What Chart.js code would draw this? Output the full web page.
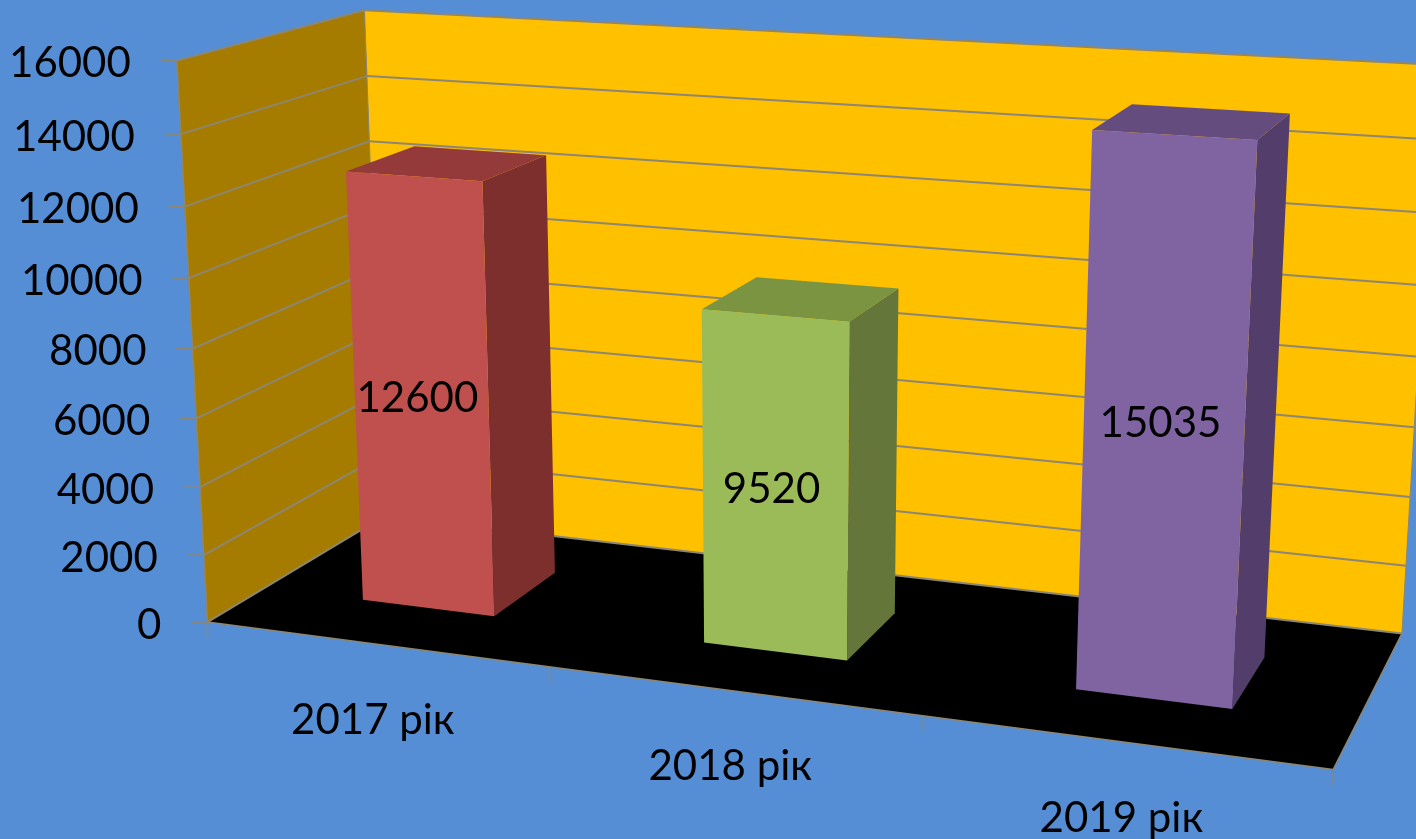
<!DOCTYPE html>
<html><head><meta charset="utf-8">
<style>html,body{margin:0;padding:0;background:#558ED5;overflow:hidden}canvas{display:block}</style>
<script src="https://cdn.jsdelivr.net/npm/chart.js@4"></script></head>
<body><canvas id="c" width="1416" height="839"></canvas>
<script>
const categories = ['2017 рік', '2018 рік', '2019 рік'];
const values = [12600, 9520, 15035];
const frontColors = ['#C0504D', '#9BBB59', '#8064A2'];
const topColors = ['#953A3A', '#7A9441', '#654C7F'];
const sideColors = ['#7D2F2E', '#64763A', '#533E6B'];
const yMax = 16000, yStep = 2000;

// Layout of the 3D view: box anchors as [across, up, deep, screenX, screenY]
const anchors = [
  [0,0,0,208,622],[1,0,0,1333,770],[0,0,1,383,517],[1,0,1,1402,633],
  [0,1,0,177,61],[0,1,1,365,10.5],[1,1,1,1436,65],
  [0,.875,0,180,134],[0,.75,0,185,206],[0,.875,1,367,76],[0,.75,1,369,141]
];
const barDepth = [0.305, 0.695];

function solve(A,b){const n=b.length;for(let i=0;i<n;i++){let p=i;for(let r=i+1;r<n;r++)if(Math.abs(A[r][i])>Math.abs(A[p][i]))p=r;
  [A[i],A[p]]=[A[p],A[i]];[b[i],b[p]]=[b[p],b[i]];
  for(let r=i+1;r<n;r++){const f=A[r][i]/A[i][i];for(let k=i;k<n;k++)A[r][k]-=f*A[i][k];b[r]-=f*b[i];}}
  const x=Array(n).fill(0);for(let i=n-1;i>=0;i--){let s=b[i];for(let k=i+1;k<n;k++)s-=A[i][k]*x[k];x[i]=s/A[i][i];}return x;}
function fit(pts){const N=Array.from({length:11},()=>Array(11).fill(0)),r=Array(11).fill(0);
  const add=(row,y)=>{for(let i=0;i<11;i++){r[i]+=row[i]*y;for(let j=0;j<11;j++)N[i][j]+=row[i]*row[j];}};
  for(const [a,v,d,X,Y] of pts){add([a,v,d,1,0,0,0,0,-X*a,-X*v,-X*d],X);add([0,0,0,0,a,v,d,1,-Y*a,-Y*v,-Y*d],Y);}
  return solve(N,r);}
const M=fit(anchors);
function P(a,v,d){const w=M[8]*a+M[9]*v+M[10]*d+1;return [(M[0]*a+M[1]*v+M[2]*d+M[3])/w,(M[4]*a+M[5]*v+M[6]*d+M[7])/w];}
function poly(ctx,pts,fill,stroke,lw){ctx.beginPath();pts.forEach((p,i)=>i?ctx.lineTo(p[0],p[1]):ctx.moveTo(p[0],p[1]));ctx.closePath();
  if(fill){ctx.fillStyle=fill;ctx.fill();}if(stroke){ctx.strokeStyle=stroke;ctx.lineWidth=lw;ctx.stroke();}}
function line(ctx,a,b,color,lw){ctx.beginPath();ctx.moveTo(a[0],a[1]);ctx.lineTo(b[0],b[1]);ctx.strokeStyle=color;ctx.lineWidth=lw;ctx.stroke();}

const perspective={id:'perspective',
  beforeDatasetsDraw(chart){
    const ctx=chart.ctx,xs=chart.scales.x,ys=chart.scales.y,grid='#8C8672';
    const vOf=px=>(ys.bottom-px)/(ys.bottom-ys.top), aOf=px=>(px-xs.left)/(xs.right-xs.left);
    ctx.save();
    // walls and floor
    poly(ctx,[P(0,0,1),P(1,0,1),P(1,1,1),P(0,1,1)],'#FFC000');
    poly(ctx,[P(0,0,0),P(0,0,1),P(0,1,1),P(0,1,0)],'#A67C00');
    poly(ctx,[P(0,0,0),P(1,0,0),P(1,0,1),P(0,0,1)],'#000000');
    // value grid, ticks and labels
    ctx.font='42px Lato, "Noto Sans", sans-serif';ctx.fillStyle='#000';ctx.textBaseline='middle';
    ys.ticks.forEach(t=>{const v=vOf(ys.getPixelForValue(t.value));
      const f=P(0,v,0),b=P(0,v,1),e=P(1,v,1);
      line(ctx,f,b,grid,2);line(ctx,b,e,grid,2);line(ctx,[f[0]-16,f[1]],f,grid,1.5);
      ctx.textAlign='right';ctx.fillStyle='#000';ctx.fillText(String(t.value),f[0]-46,f[1]+3);});
    line(ctx,P(0,0,0),P(0,1,0),grid,1.5);line(ctx,P(0,0,1),P(0,1,1),grid,1);
    line(ctx,P(1,0,0),P(1,0,1),grid,1.5);line(ctx,P(1,0,1),P(1,1,1),grid,1);
    line(ctx,P(0,0,0),P(1,0,0),grid,1.5);
    // category ticks and labels
    const n=categories.length;
    for(let i=0;i<=n;i++){const p=P(i/n,0,0);line(ctx,p,[p[0],p[1]+16],grid,1.5);}
    categories.forEach((c,i)=>{const p=P(aOf(xs.getPixelForValue(i)),0,0);
      ctx.textAlign='center';ctx.fillStyle='#000';ctx.fillText(c,p[0]-2,p[1]+76);});
    // bars
    const meta=chart.getDatasetMeta(0);
    meta.data.forEach((el,i)=>{
      const a0=aOf(el.x-el.width/2),a1=aOf(el.x+el.width/2),v=vOf(el.y),v0=vOf(el.base),[d0,d1]=barDepth;
      const fl=P(a0,v0,d0),fr=P(a1,v0,d0),tl=P(a0,v,d0),tr=P(a1,v,d0);
      poly(ctx,[fr,P(a1,v0,d1),P(a1,v,d1),tr],sideColors[i]);
      poly(ctx,[tl,tr,P(a1,v,d1),P(a0,v,d1)],topColors[i]);
      poly(ctx,[fl,fr,tr,tl],frontColors[i]);
      ctx.textAlign='center';ctx.fillStyle='#000';
      ctx.fillText(String(values[i]),(fl[0]+fr[0]+tl[0]+tr[0])/4-4,(fl[1]+fr[1]+tl[1]+tr[1])/4+6);
    });
    ctx.restore();
    return false;
  }};

new Chart(document.getElementById('c'),{
  type:'bar',
  data:{labels:categories,datasets:[{label:'Значення',data:values,backgroundColor:frontColors,barPercentage:0.79,categoryPercentage:0.5}]},
  options:{responsive:false,animation:false,
    layout:{padding:0},
    plugins:{legend:{display:false},tooltip:{enabled:false}},
    scales:{
      x:{display:false},
      y:{display:false,min:0,max:yMax,ticks:{stepSize:yStep}}
    }},
  plugins:[perspective]
});
</script></body></html>
